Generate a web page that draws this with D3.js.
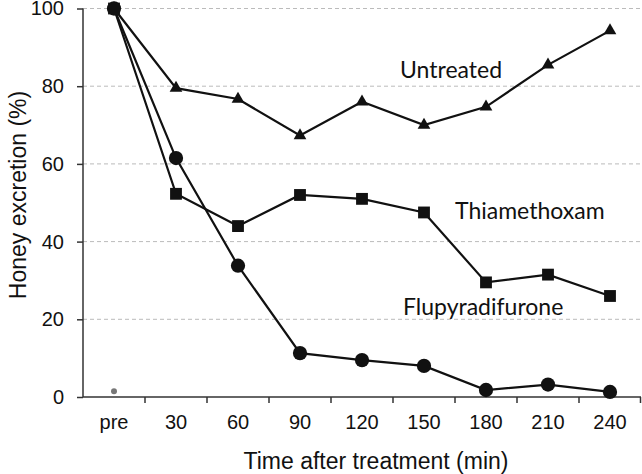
<!DOCTYPE html>
<html><head><meta charset="utf-8">
<script src="https://cdn.jsdelivr.net/npm/d3@7"></script>
<style>body{margin:0;background:#fff}svg{display:block}</style>
</head><body><svg id="c" width="642" height="474"></svg>
<script>
const categories = ["pre","30","60","90","120","150","180","210","240"];
const untreated = [100,79.5,76.7,67.3,76,70,74.7,85.5,94.3];
const thiamethoxam = [100,52.3,44,52,51,47.5,29.5,31.5,26];
const flupyradifurone = [100,61.5,33.8,11.3,9.5,8,1.8,3.2,1.3];
const yTicks = [0,20,40,60,80,100];
const seriesNames = ["Untreated","Thiamethoxam","Flupyradifurone"];
const strayPoint = {cat:"pre", value:1.5};

const svg = d3.select("#c");
const m = {l:83, r:641, t:8.5, b:397};
const x = d3.scaleBand().domain(categories).range([m.l, m.r]);
const y = d3.scaleLinear().domain([0,100]).range([m.b, m.t]);
const cx = d => x(d) + x.bandwidth()/2;
const axisFont = "'Liberation Sans', Arial, sans-serif";

// grid
svg.append("g").selectAll("line").data(yTicks.filter(t=>t>0)).join("line")
  .attr("x1", m.l).attr("x2", m.r).attr("y1", d=>y(d)).attr("y2", d=>y(d))
  .attr("stroke","#bbb").attr("stroke-width",1).attr("stroke-dasharray","4,3");

// y axis
const ya = svg.append("g").attr("transform",`translate(${m.l},0)`)
  .call(d3.axisLeft(y).tickValues(yTicks).tickSize(6).tickPadding(13));
ya.select(".domain").attr("stroke","#333").attr("stroke-width",1.5).attr("d",`M0,${m.b}V${m.t}`);
ya.selectAll(".tick line").attr("stroke","#333").attr("stroke-width",1.5);
ya.selectAll(".tick text").attr("font-family",axisFont).attr("font-size",20).attr("fill","#111");

// x axis
const xa = svg.append("g").attr("transform",`translate(0,${m.b})`)
  .call(d3.axisBottom(x).tickSize(0).tickPadding(18));
xa.select(".domain").attr("stroke","#333").attr("stroke-width",1.5).attr("d",`M${m.l},0H${m.r}`);
xa.selectAll(".tick text").attr("font-family",axisFont).attr("font-size",20).attr("fill","#111");
xa.selectAll("line.sep").data(categories.slice(1)).join("line").attr("class","sep")
  .attr("x1", d=>x(d)).attr("x2", d=>x(d)).attr("y1",0).attr("y2",6)
  .attr("stroke","#333").attr("stroke-width",1.5);
xa.append("line").attr("x1",m.r-0.5).attr("x2",m.r-0.5).attr("y1",0).attr("y2",6)
  .attr("stroke","#333").attr("stroke-width",1.5);

// axis titles
svg.append("text").attr("x",376).attr("y",469).attr("text-anchor","middle")
  .attr("font-family",axisFont).attr("font-size",23).attr("fill","#111")
  .text("Time after treatment (min)");
svg.append("text").attr("transform",`translate(26,195) rotate(-90)`).attr("text-anchor","middle")
  .attr("font-family",axisFont).attr("font-size",23).attr("fill","#111")
  .text("Honey excretion (%)");

const line = d3.line().x((d,i)=>cx(categories[i])).y(d=>y(d));
const data = [untreated, thiamethoxam, flupyradifurone];
const shapes = [d3.symbolTriangle, d3.symbolSquare, d3.symbolCircle];
const sizes = [70, 140, 160];
data.forEach((s,k)=>{
  svg.append("path").attr("d", line(s)).attr("fill","none").attr("stroke","#111").attr("stroke-width",2.2);
});
data.forEach((s,k)=>{
  svg.append("g").selectAll("path").data(s).join("path")
    .attr("transform",(d,i)=>`translate(${cx(categories[i])},${y(d)})`)
    .attr("d", d3.symbol(shapes[k], sizes[k])).attr("fill","#111");
});

svg.append("circle").attr("cx", cx(strayPoint.cat)).attr("cy", y(strayPoint.value)).attr("r",3).attr("fill","#777");

const labelPos = [[400,78],[455,219],[403,315]];
seriesNames.forEach((n,k)=>{
  svg.append("text").attr("x",labelPos[k][0]).attr("y",labelPos[k][1])
    .attr("font-family","Lato, 'Open Sans', sans-serif").attr("font-size",23).attr("fill","#111").text(n);
});
</script></body></html>
